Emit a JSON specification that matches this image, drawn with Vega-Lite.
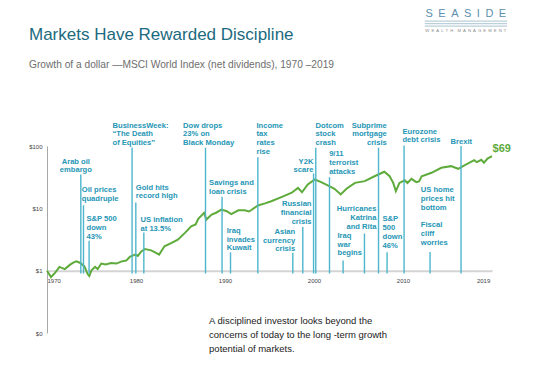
{
  "$schema": "https://vega.github.io/schema/vega-lite/v6.json",
  "width": 445,
  "height": 187,
  "autosize": {"type": "none"},
  "padding": {"left": 47, "top": 146, "right": 46, "bottom": 36},
  "background": "white",
  "config": {
    "view": {"stroke": null},
    "font": "Liberation Sans",
    "axis": {"ticks": false, "grid": false, "labelFont": "Liberation Sans", "labelFontSize": 6, "labelColor": "#444", "title": null}
  },
  "title": {
    "text": "Markets Have Rewarded Discipline",
    "subtitle": "Growth of a dollar —MSCI World Index (net dividends), 1970  –2019",
    "anchor": "start",
    "frame": "group",
    "orient": "top",
    "dx": -18,
    "offset": -63,
    "font": "Liberation Sans",
    "fontSize": 17,
    "fontWeight": "normal",
    "color": "#1b6a80",
    "subtitleFont": "Liberation Sans",
    "subtitleFontSize": 10.2,
    "subtitleColor": "#6e6e6e",
    "subtitlePadding": 16
  },
  "datasets": {
    "series": [
      {"date": 1970.0, "value": 1.0}, {"date": 1970.45, "value": 0.79}, {"date": 1970.9, "value": 0.92},
      {"date": 1971.4, "value": 1.15}, {"date": 1972.0, "value": 1.06}, {"date": 1972.6, "value": 1.25},
      {"date": 1973.0, "value": 1.36}, {"date": 1973.3, "value": 1.41}, {"date": 1973.75, "value": 1.33},
      {"date": 1974.2, "value": 1.17}, {"date": 1974.55, "value": 0.89}, {"date": 1974.75, "value": 0.82},
      {"date": 1975.0, "value": 1.01}, {"date": 1975.4, "value": 1.15}, {"date": 1975.7, "value": 1.06},
      {"date": 1976.1, "value": 1.3}, {"date": 1976.6, "value": 1.26}, {"date": 1977.2, "value": 1.33},
      {"date": 1977.8, "value": 1.3}, {"date": 1978.4, "value": 1.41}, {"date": 1978.9, "value": 1.45},
      {"date": 1979.3, "value": 1.66}, {"date": 1979.9, "value": 1.81}, {"date": 1980.2, "value": 1.72},
      {"date": 1980.6, "value": 2.04}, {"date": 1981.0, "value": 2.23}, {"date": 1981.7, "value": 2.12},
      {"date": 1982.2, "value": 1.95}, {"date": 1982.6, "value": 1.81}, {"date": 1983.2, "value": 2.46},
      {"date": 1984.0, "value": 2.79}, {"date": 1984.7, "value": 3.15}, {"date": 1985.5, "value": 4.04},
      {"date": 1986.2, "value": 5.16}, {"date": 1986.7, "value": 5.5}, {"date": 1987.0, "value": 6.78},
      {"date": 1987.65, "value": 8.45}, {"date": 1987.9, "value": 6.6}, {"date": 1988.5, "value": 7.94},
      {"date": 1989.0, "value": 8.5}, {"date": 1989.6, "value": 9.55}, {"date": 1990.2, "value": 8.98},
      {"date": 1990.7, "value": 8.1}, {"date": 1991.5, "value": 9.3}, {"date": 1992.2, "value": 9.3},
      {"date": 1992.7, "value": 8.9}, {"date": 1993.0, "value": 9.5}, {"date": 1993.7, "value": 11.1},
      {"date": 1994.5, "value": 12.0}, {"date": 1995.2, "value": 13.0}, {"date": 1996.4, "value": 15.3},
      {"date": 1997.5, "value": 17.8}, {"date": 1998.2, "value": 21.3}, {"date": 1998.65, "value": 18.1},
      {"date": 1999.3, "value": 24.1}, {"date": 2000.1, "value": 29.0}, {"date": 2000.8, "value": 26.3},
      {"date": 2001.6, "value": 23.2}, {"date": 2002.3, "value": 20.6}, {"date": 2003.0, "value": 16.7},
      {"date": 2003.65, "value": 20.6}, {"date": 2004.6, "value": 25.6}, {"date": 2005.7, "value": 27.3},
      {"date": 2006.8, "value": 32.7}, {"date": 2007.9, "value": 38.6}, {"date": 2008.5, "value": 32.7},
      {"date": 2008.9, "value": 25.6}, {"date": 2009.2, "value": 18.8}, {"date": 2009.6, "value": 25.6},
      {"date": 2010.2, "value": 28.2}, {"date": 2010.5, "value": 25.5}, {"date": 2010.95, "value": 29.7},
      {"date": 2011.5, "value": 26.3}, {"date": 2011.8, "value": 27.0}, {"date": 2012.1, "value": 32.7},
      {"date": 2013.2, "value": 37.2}, {"date": 2014.3, "value": 44.8}, {"date": 2015.4, "value": 47.5},
      {"date": 2016.2, "value": 43.1}, {"date": 2016.9, "value": 48.8}, {"date": 2018.0, "value": 59.3},
      {"date": 2018.3, "value": 55.0}, {"date": 2018.8, "value": 60.0}, {"date": 2019.1, "value": 53.9},
      {"date": 2019.5, "value": 63.0}, {"date": 2020.0, "value": 69.0}
    ],
    "events": [
      {"year": 1973.8, "top": 34.9}, {"year": 1974.1, "top": 11.2}, {"year": 1974.73, "top": 3.03},
      {"year": 1979.56, "top": 95}, {"year": 1979.98, "top": 12.4}, {"year": 1980.88, "top": 4.08},
      {"year": 1987.81, "top": 93.9}, {"year": 1989.67, "top": 15.3}, {"year": 1990.62, "top": 1.97},
      {"year": 1993.69, "top": 66.3}, {"year": 1997.62, "top": 1.93}, {"year": 1998.74, "top": 5.04},
      {"year": 1999.95, "top": 36.3}, {"year": 2000.2, "top": 93.9}, {"year": 2001.74, "top": 31.6},
      {"year": 2003.27, "top": 1.46}, {"year": 2005.67, "top": 3.93}, {"year": 2007.25, "top": 93.9},
      {"year": 2008.21, "top": 1.97}, {"year": 2010.12, "top": 102}, {"year": 2013.04, "top": 2.0},
      {"year": 2016.52, "top": 99.6}
    ],
    "labels_left": [
      {"year": 1973.91, "value": 22.8, "label": "Oil prices\nquadruple"},
      {"year": 1974.44, "value": 7.8, "label": "S&P 500\ndown\n43%"},
      {"year": 1977.36, "value": 246.7, "label": "BusinessWeek:\n“The Death\nof Equities”"},
      {"year": 1979.98, "value": 24.9, "label": "Gold hits\nrecord high"},
      {"year": 1980.51, "value": 7.52, "label": "US inflation\nat 13.5%"},
      {"year": 1985.29, "value": 246.7, "label": "Dow drops\n23% on\nBlack Monday"},
      {"year": 1988.21, "value": 29.3, "label": "Savings and\nloan crisis"},
      {"year": 1990.19, "value": 5.06, "label": "Iraq\ninvades\nKuwait"},
      {"year": 1993.54, "value": 246.7, "label": "Income\ntax\nrates\nrise"},
      {"year": 2000.18, "value": 246.7, "label": "Dotcom\nstock\ncrash"},
      {"year": 2001.7, "value": 85.6, "label": "9/11\nterrorist\nattacks"},
      {"year": 2002.64, "value": 4.21, "label": "Iraq\nwar\nbegins"},
      {"year": 2007.7, "value": 7.72, "label": "S&P\n500\ndown\n46%"},
      {"year": 2009.94, "value": 197.6, "label": "Eurozone\ndebt crisis"},
      {"year": 2012.0, "value": 22.6, "label": "US home\nprices hit\nbottom"},
      {"year": 2012.0, "value": 6.18, "label": "Fiscal\ncliff\nworries"},
      {"year": 2015.34, "value": 136.5, "label": "Brexit"}
    ],
    "labels_center": [
      {"year": 1973.24, "value": 65.1, "label": "Arab oil\nembargo"}
    ],
    "labels_right": [
      {"year": 1997.88, "value": 4.88, "label": "Asian\ncurrency\ncrisis"},
      {"year": 1999.72, "value": 13.45, "label": "Russian\nfinancial\ncrisis"},
      {"year": 1999.93, "value": 65.1, "label": "Y2K\nscare"},
      {"year": 2007.02, "value": 11.3, "label": "Hurricanes\nKatrina\nand Rita"},
      {"year": 2008.18, "value": 246.7, "label": "Subprime\nmortgage\ncrisis"}
    ]
  },
  "layer": [
    {
      "data": {"name": "series"},
      "mark": {"type": "line", "color": "#5eab3b", "strokeWidth": 2},
      "encoding": {
        "x": {
          "field": "date", "type": "quantitative", "title": null,
          "scale": {"domain": [1970, 2020], "nice": false, "zero": false},
          "axis": {
            "title": null, "orient": "bottom", "offset": -62.3,
            "values": [1970, 1980, 1990, 2000, 2010, 2019], "format": "d",
            "domainColor": "#d4d4d4", "domainWidth": 2, "labelPadding": 7
          }
        },
        "y": {
          "field": "value", "type": "quantitative", "title": null,
          "scale": {"type": "log", "domain": [0.1, 100], "nice": false},
          "axis": {
            "title": null, "values": [0.1, 1, 10, 100],
            "labelExpr": "datum.value < 0.5 ? '$0' : '$' + format(datum.value, 'd')",
            "domainColor": "#a8a8a8", "domainWidth": 1, "labelPadding": 5
          }
        }
      }
    },
    {
      "data": {"name": "events"},
      "mark": {"type": "rule", "color": "#4db6cd", "strokeWidth": 1.4},
      "encoding": {
        "x": {"field": "year", "type": "quantitative", "title": null},
        "y": {"field": "top", "type": "quantitative", "title": null},
        "y2": {"datum": 0.9}
      }
    },
    {
      "data": {"name": "labels_left"},
      "mark": {"type": "text", "align": "left", "baseline": "top", "lineBreak": "\n", "lineHeight": 8.8, "fontSize": 7.6, "fontWeight": "bold", "color": "#2596b5", "font": "Liberation Sans"},
      "encoding": {
        "x": {"field": "year", "type": "quantitative", "title": null},
        "y": {"field": "value", "type": "quantitative", "title": null},
        "text": {"field": "label"}
      }
    },
    {
      "data": {"name": "labels_center"},
      "mark": {"type": "text", "align": "center", "baseline": "top", "lineBreak": "\n", "lineHeight": 8.8, "fontSize": 7.6, "fontWeight": "bold", "color": "#2596b5", "font": "Liberation Sans"},
      "encoding": {
        "x": {"field": "year", "type": "quantitative", "title": null},
        "y": {"field": "value", "type": "quantitative", "title": null},
        "text": {"field": "label"}
      }
    },
    {
      "data": {"name": "labels_right"},
      "mark": {"type": "text", "align": "right", "baseline": "top", "lineBreak": "\n", "lineHeight": 8.8, "fontSize": 7.6, "fontWeight": "bold", "color": "#2596b5", "font": "Liberation Sans"},
      "encoding": {
        "x": {"field": "year", "type": "quantitative", "title": null},
        "y": {"field": "value", "type": "quantitative", "title": null},
        "text": {"field": "label"}
      }
    },
    {
      "data": {"values": [{"year": 2020.06, "value": 90.5, "label": "$69"}]},
      "mark": {"type": "text", "align": "left", "baseline": "middle", "fontSize": 11, "fontWeight": "bold", "color": "#5eab3b", "font": "Liberation Sans"},
      "encoding": {
        "x": {"field": "year", "type": "quantitative", "title": null},
        "y": {"field": "value", "type": "quantitative", "title": null},
        "text": {"field": "label"}
      }
    },
    {
      "data": {"values": [{"year": 1988.21, "value": 0.1897, "label": "A disciplined investor looks beyond the\nconcerns of today to the long -term growth\npotential of markets."}]},
      "mark": {"type": "text", "align": "left", "baseline": "top", "lineBreak": "\n", "lineHeight": 14.3, "fontSize": 9.5, "color": "#1a1a1a", "font": "Liberation Sans"},
      "encoding": {
        "x": {"field": "year", "type": "quantitative", "title": null},
        "y": {"field": "value", "type": "quantitative", "title": null},
        "text": {"field": "label"}
      }
    },
    {
      "data": {"values": [{"start": 2012.44, "end": 2021.7, "value": 10070}, {"start": 2012.44, "end": 2021.7, "value": 9190}, {"start": 2012.44, "end": 2021.7, "value": 8372}]},
      "mark": {"type": "rule", "color": "#b9cfda", "strokeWidth": 1.2},
      "encoding": {
        "x": {"field": "start", "type": "quantitative", "title": null},
        "x2": {"field": "end"},
        "y": {"field": "value", "type": "quantitative", "title": null}
      }
    },
    {
      "data": {"values": [{"year": 2017.06, "value": 13060, "label": "S\u2002E\u2002A\u2002S\u2002I\u2002D\u2002E"}]},
      "mark": {"type": "text", "align": "center", "baseline": "middle", "fontSize": 11, "color": "#5b8fae", "font": "Liberation Sans"},
      "encoding": {
        "x": {"field": "year", "type": "quantitative", "title": null},
        "y": {"field": "value", "type": "quantitative", "title": null},
        "text": {"field": "label"}
      }
    },
    {
      "data": {"values": [{"year": 2017.06, "value": 6882, "label": "W\u2002E\u2002A\u2002L\u2002T\u2002H\u2003M\u2002A\u2002N\u2002A\u2002G\u2002E\u2002M\u2002E\u2002N\u2002T"}]},
      "mark": {"type": "text", "align": "center", "baseline": "middle", "fontSize": 4.2, "color": "#8a8a8a", "font": "Liberation Sans"},
      "encoding": {
        "x": {"field": "year", "type": "quantitative", "title": null},
        "y": {"field": "value", "type": "quantitative", "title": null},
        "text": {"field": "label"}
      }
    }
  ]
}
